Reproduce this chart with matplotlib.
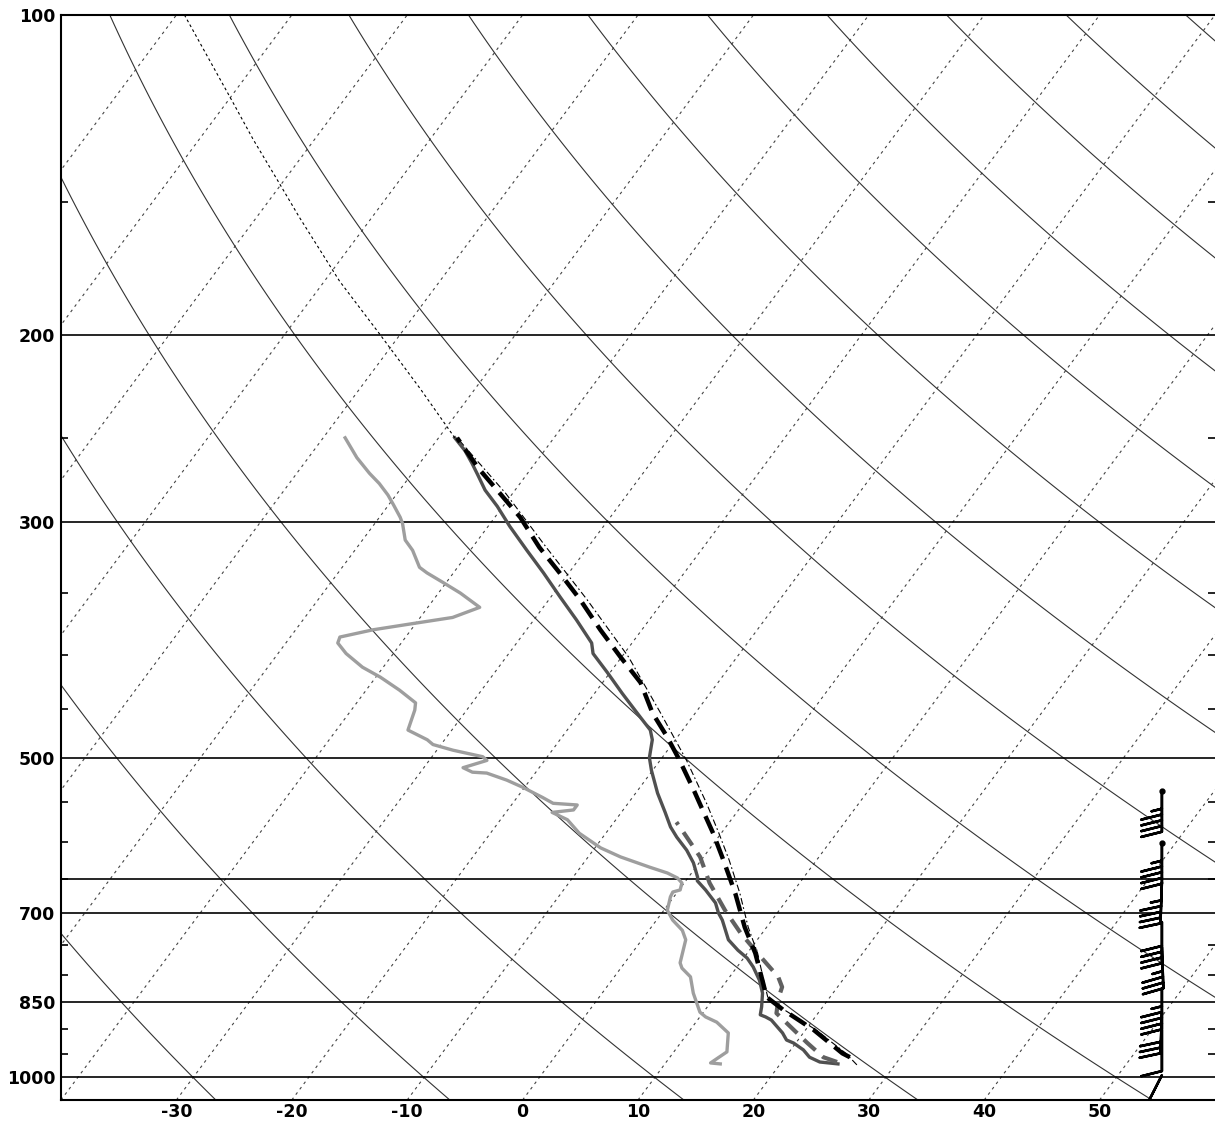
import numpy as np
import matplotlib
matplotlib.use("Agg")
import matplotlib.pyplot as plt
from matplotlib.ticker import FixedLocator, NullFormatter

# environmental temperature (hPa, degC), surface upward
temp_p = [971, 967, 957, 942, 928, 922, 908, 883, 877, 873, 858, 833, 810, 787, 772,
          759, 742, 711, 700, 685, 666, 653, 648, 628, 611, 594, 581, 563, 540, 514,
          500, 481, 471, 458, 435, 416, 399, 390, 371, 353, 335, 319, 303, 290, 280,
          271, 264, 257, 250]
temp_t = [25.0, 23.3, 22.1, 21.1, 19.8, 19.0, 18.2, 16.4, 15.7, 15.1, 14.7, 13.9, 12.8,
          11.4, 10.3, 9.0, 7.5, 5.7, 4.9, 4.0, 2.3, 1.0, 0.8, -0.5, -1.9, -3.6, -4.8,
          -6.2, -8.1, -10.1, -11.1, -12.0, -12.8, -14.5, -17.6, -20.2, -22.7, -23.5,
          -26.3, -29.2, -32.2, -35.1, -38.1, -40.5, -42.6, -44.2, -45.5, -46.9, -48.6]

# dewpoint
dwpt_p = [971, 969, 959, 946, 908, 887, 877, 868, 833, 804, 789, 780, 742, 727, 711,
          696, 676, 669, 666, 656, 649, 642, 634, 620, 608, 589, 572, 563, 560, 554,
          552, 545, 533, 525, 517, 516, 511, 503, 499, 492, 486, 481, 471, 451, 444,
          432, 420, 411, 399, 390, 385, 379, 374, 369, 361, 350, 342, 335, 331, 319,
          312, 301, 297, 289, 283, 276, 270, 261, 250]
dwpt_t = [14.8, 13.9, 14.2, 14.6, 13.5, 11.8, 10.5, 9.7, 7.9, 6.6, 5.3, 4.8, 3.8, 2.9,
          1.4, 0.3, -0.3, -0.4, 0.1, -0.2, -0.9, -2.1, -4.0, -7.2, -9.5, -12.3, -14.2,
          -16.0, -14.3, -14.3, -16.5, -17.8, -20.2, -22.0, -24.2, -25.5, -26.6, -25.0,
          -25.6, -28.6, -30.7, -31.5, -33.8, -34.5, -34.9, -37.1, -39.6, -41.8, -44.1,
          -45.5, -45.7, -43.3, -40.3, -37.2, -35.5, -38.1, -40.3, -42.3, -43.3, -45.0,
          -46.3, -47.6, -48.2, -49.6, -50.7, -52.2, -53.7, -55.8, -58.1]

# parcel traces
parcel_p = [957, 949, 902, 864, 840, 815, 764, 722, 671, 624, 589, 552, 536, 503, 478,
            454, 425, 402, 379, 355, 335, 317, 297, 282, 267, 250]
parcel_t = [25.6, 24.7, 20.7, 16.8, 14.5, 13.3, 10.7, 8.1, 5.1, 1.9, -0.7, -3.8, -5.2,
            -8.3, -10.9, -13.7, -16.7, -20.1, -23.6, -27.3, -30.8, -34.2, -37.8, -41.1,
            -44.6, -48.4]

mixed_p = [967, 957, 928, 896, 870, 842, 822, 804, 770, 731, 696, 656, 620, 585, 575]
mixed_t = [24.8, 23.3, 21.0, 18.5, 16.4, 15.6, 15.2, 14.2, 11.4, 8.1, 5.3, 2.2, -0.3,
           -3.6, -4.6]

virt_p = [973, 949, 902, 864, 840, 815, 764, 722, 671, 624, 589, 552, 503, 454, 402,
          355, 317, 282, 250]
virt_t = [26.7, 25.0, 20.9, 16.9, 14.6, 13.4, 10.9, 8.4, 5.5, 2.4, -0.2, -3.2, -7.7,
          -13.0, -19.4, -26.7, -33.6, -40.6, -48.4]

virt_top_p = [250, 225, 200, 178, 155, 143, 131, 121, 100]
virt_top_t = [-48.6, -54.7, -61.7, -68.7, -76.3, -80.6, -85.3, -89.4, -99.3]

# winds
wind_p = [537, 601, 655, 714, 754, 824, 868, 902, 995]
wind_dir = [180, 180, 182, 180, 178, 180, 182, 180, 207]
wind_spd = [45, 45, 45, 40, 35, 45, 30, 10, 20]

p_labels = [100, 200, 300, 500, 700, 850, 1000]
p_lines = [200, 300, 500, 650, 700, 850, 1000]
p_minor = [150, 250, 350, 400, 450, 550, 600, 650, 750, 800, 900, 950]
t_labels = [-30, -20, -10, 0, 10, 20, 30, 40, 50]

P_BOT, P_TOP = 1050, 100
SKEW = 70 / np.log(P_BOT / P_TOP)


def skew_x(t, p):
    return np.asarray(t, float) + SKEW * np.log(P_BOT / np.asarray(p, float))


fig = plt.figure(figsize=(12.15, 11.22), dpi=100)
ax = fig.add_axes([61 / 1215, 22 / 1122, 1154 / 1215, 1085 / 1122])
ax.set_yscale('log')
ax.set_xlim(-40, 60)
ax.set_ylim(P_BOT, P_TOP)

# isotherms
for t in range(-110, 61, 10):
    ax.plot(skew_x([t, t], [P_BOT, P_TOP]), [P_BOT, P_TOP], color='#444444',
            lw=0.8, linestyle=(0, (2.5, 3.5)), zorder=1)

# dry adiabats
pp = np.geomspace(P_TOP, P_BOT, 120)
for theta in range(-50, 251, 20):
    tk = (theta + 273.15) * (pp / 1000.0) ** 0.2857 - 273.15
    ax.plot(skew_x(tk, pp), pp, color='#333333', lw=0.8, zorder=1)

for p in p_lines:
    ax.axhline(p, color='black', lw=1.2, zorder=2)

ax.plot(skew_x(dwpt_t, dwpt_p), dwpt_p, color='#9e9e9e', lw=2.4, zorder=4)
ax.plot(skew_x(temp_t, temp_p), temp_p, color='#505050', lw=2.4, zorder=4)
ax.plot(skew_x(mixed_t, mixed_p), mixed_p, color='#606060', lw=3.0,
        dashes=(3.8, 2.2), zorder=5)
ax.plot(skew_x(parcel_t, parcel_p), parcel_p, color='black', lw=3.2,
        dashes=(4.2, 2.0), zorder=6)
ax.plot(skew_x(virt_t, virt_p), virt_p, color='black', lw=0.8,
        dashes=(6, 2.5, 1.5, 2.5), zorder=7)
ax.plot(skew_x(virt_top_t, virt_top_p), virt_top_p, color='black', lw=0.8,
        dashes=(2.5, 2.5), zorder=7)

# wind barbs
spd = np.array(wind_spd, float)
wdir = np.radians(wind_dir)
wu = -spd * np.sin(wdir)
wv = -spd * np.cos(wdir)
wx = np.full(len(wind_p), 55.4)
ax.barbs(wx, wind_p, wu, wv, length=7.7, linewidth=1.8, color='black', zorder=8,
         sizes=dict(height=0.5, spacing=0.14))
ax.plot(wx[:2], wind_p[:2], 'o', ms=3.5, color='black', zorder=8)

# axes decoration
ax.spines['right'].set_visible(False)
for s in ['left', 'top', 'bottom']:
    ax.spines[s].set_linewidth(1.5)

ax.yaxis.set_major_locator(FixedLocator(p_labels))
ax.yaxis.set_minor_locator(FixedLocator(p_minor))
ax.yaxis.set_minor_formatter(NullFormatter())
ax.set_yticklabels([str(p) for p in p_labels], fontweight='bold', fontsize=12.5)
ax.tick_params(axis='y', which='major', length=0, pad=4)
ax.tick_params(axis='y', which='minor', length=5, width=1.2, direction='in',
               left=True, right=True)

ax.set_xticks(t_labels)
ax.set_xticklabels([str(t) for t in t_labels], fontweight='bold', fontsize=12.5)
ax.tick_params(axis='x', length=0, pad=2)

fig.savefig('out.png', dpi=100)
